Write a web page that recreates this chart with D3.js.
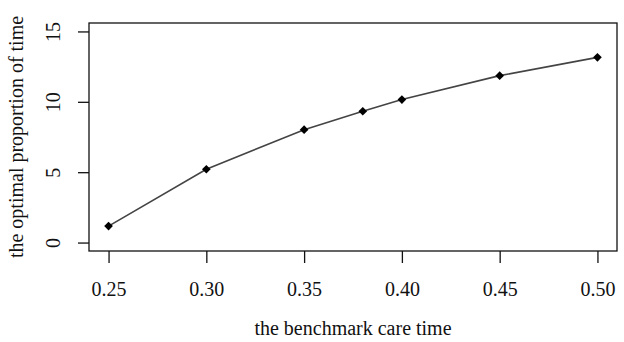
<!DOCTYPE html>
<html>
<head>
<meta charset="utf-8">
<script src="https://cdn.jsdelivr.net/npm/d3@7"></script>
<style>
  body { margin: 0; background: #fff; }
  svg text { font-family: 'Liberation Serif', 'Times New Roman', Times, 'DejaVu Serif', serif !important; fill: #111; }
</style>
</head>
<body>
<svg width="624" height="342"></svg>
<script>
  // benchmark care time vs optimal proportion of time
  var careTime = [0.25, 0.30, 0.35, 0.38, 0.40, 0.45, 0.50];
  var proportion = [1.17, 5.21, 8.02, 9.33, 10.16, 11.86, 13.16];
  var xTicks = [0.25, 0.30, 0.35, 0.40, 0.45, 0.50];
  var yTicks = [0, 5, 10, 15];

  var box = { left: 89, right: 617, top: 23, bottom: 251 };
  var svg = d3.select('svg');

  var x = d3.scaleLinear().domain([0.24, 0.51]).range([box.left, box.right]);
  var y = d3.scaleLinear().domain([-0.6, 15.6]).range([box.bottom, box.top]);

  svg.append('rect')
    .attr('x', box.left).attr('y', box.top)
    .attr('width', box.right - box.left).attr('height', box.bottom - box.top)
    .attr('fill', 'none').attr('stroke', '#111').attr('stroke-width', 1.3);

  var xAxis = svg.append('g')
    .attr('transform', 'translate(0,' + box.bottom + ')')
    .call(d3.axisBottom(x).tickValues(xTicks).tickFormat(d3.format('.2f')).tickSize(12).tickSizeOuter(0));
  xAxis.attr('font-family', null);
  xAxis.select('.domain').remove();
  xAxis.selectAll('line').attr('stroke', '#111').attr('stroke-width', 1.3);
  xAxis.selectAll('text')
    .attr('y', 38).attr('dy', '0.35em')
    .style('font-size', '20px').attr('fill', '#111');

  var yAxis = svg.append('g')
    .attr('transform', 'translate(' + box.left + ',0)')
    .call(d3.axisLeft(y).tickValues(yTicks).tickSize(11).tickSizeOuter(0));
  yAxis.attr('font-family', null);
  yAxis.select('.domain').remove();
  yAxis.selectAll('line').attr('stroke', '#111').attr('stroke-width', 1.3);
  yAxis.selectAll('text')
    .attr('x', null)
    .attr('text-anchor', 'middle')
    .attr('transform', 'translate(-36,0) rotate(-90)')
    .attr('dy', '0.35em')
    .style('font-size', '20px').attr('fill', '#111');

  var line = d3.line()
    .x(function(d, i) { return x(careTime[i]); })
    .y(function(d) { return y(d); });

  svg.append('path')
    .datum(proportion)
    .attr('d', line)
    .attr('fill', 'none')
    .attr('stroke', '#444')
    .attr('stroke-width', 1.6);

  svg.selectAll('.pt')
    .data(proportion)
    .enter()
    .append('path')
    .attr('class', 'pt')
    .attr('d', d3.symbol().type(d3.symbolDiamond2).size(48))
    .attr('transform', function(d, i) { return 'translate(' + x(careTime[i]) + ',' + y(d) + ')'; })
    .attr('fill', '#000');

  svg.append('text')
    .attr('x', (box.left + box.right) / 2)
    .attr('y', 328)
    .attr('dy', '0.35em')
    .attr('text-anchor', 'middle')
    .style('font-size', '20px')
    .text('the benchmark care time');

  svg.append('text')
    .attr('transform', 'translate(16,' + (box.top + box.bottom) / 2 + ') rotate(-90)')
    .attr('dy', '0.35em')
    .attr('text-anchor', 'middle')
    .style('font-size', '20px')
    .text('the optimal proportion of time');
</script>
</body>
</html>
